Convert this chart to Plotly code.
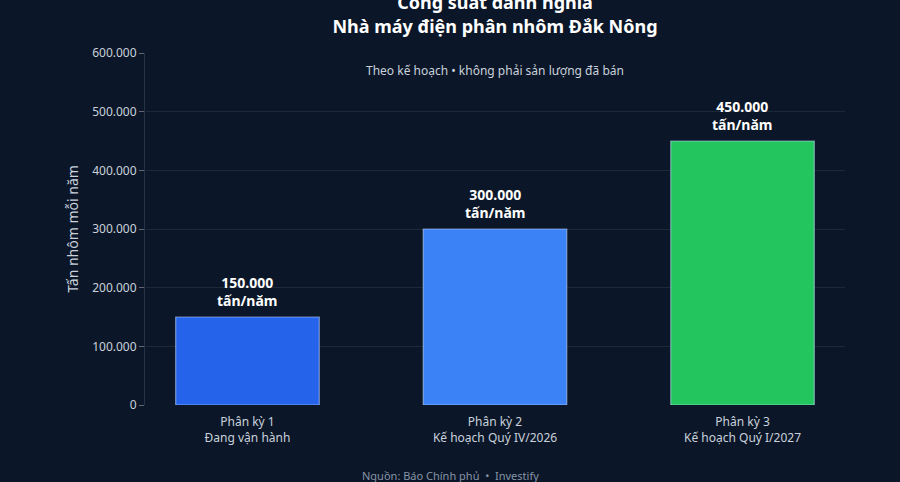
import plotly.graph_objects as go

categories = ["Phân kỳ 1<br>Đang vận hành", "Phân kỳ 2<br>Kế hoạch Quý IV/2026", "Phân kỳ 3<br>Kế hoạch Quý I/2027"]
values = [150000, 300000, 450000]
labels = ["150.000<br>tấn/năm", "300.000<br>tấn/năm", "450.000<br>tấn/năm"]
colors = ["#2563eb", "#3b82f6", "#22c55e"]
tick_vals = [0, 100000, 200000, 300000, 400000, 500000, 600000]

BG = "#0b1728"
FONT = "Noto Sans"

fig = go.Figure(go.Bar(
    x=categories, y=values,
    marker=dict(color=colors, line=dict(color="rgba(200,220,255,0.55)", width=1.2)),
))

annotations = [
    dict(x=c, y=v, xref="x", yref="y", text=f"<b>{t}</b>", showarrow=False,
         yanchor="bottom", xanchor="center", yshift=5,
         font=dict(family=FONT, size=14, color="#ffffff"))
    for c, v, t in zip(categories, values, labels)
]
annotations += [
    dict(text="Theo kế hoạch • không phải sản lượng đã bán", xref="paper", yref="paper",
         x=0.5, y=0.95, xanchor="center", yanchor="middle", showarrow=False,
         font=dict(size=12, color="#c9d1dc")),
    dict(text="Nguồn: Báo Chính phủ  •  Investify", xref="paper", yref="paper",
         x=(450 - 145) / 700, y=-0.199, xanchor="center", yanchor="middle", showarrow=False,
         font=dict(size=11, color="#8793a6")),
]

fig.update_layout(
    width=900, height=482,
    paper_bgcolor=BG, plot_bgcolor=BG,
    margin=dict(l=145, r=55, t=53, b=77),
    separators=",.",
    bargap=0.42,
    showlegend=False,
    font=dict(family=FONT, color="#c9d1dc", size=12),
    title=dict(text="<b>Công suất danh nghĩa<br>Nhà máy điện phân nhôm Đắk Nông</b>",
               x=0.55, xanchor="center", yref="container", y=0.981, yanchor="middle",
               font=dict(family=FONT, size=18, color="#ffffff")),
    xaxis=dict(showgrid=False, tickfont=dict(size=12, color="#c9d1dc"),
               ticks="outside", ticklen=6, tickcolor="rgba(0,0,0,0)", showline=False,
               range=[-0.414, 2.414]),
    yaxis=dict(range=[0, 600000], tickvals=tick_vals, tickformat=",d",
               gridcolor="rgba(255,255,255,0.08)", zeroline=False,
               showline=True, linecolor="rgba(255,255,255,0.12)",
               ticks="outside", ticklen=5, tickcolor="rgba(255,255,255,0.35)",
               tickfont=dict(size=12, color="#c9d1dc"),
               title=dict(text="Tấn nhôm mỗi năm", font=dict(size=14, color="#c9d1dc"), standoff=10)),
    annotations=annotations,
)

fig.write_html("out.html")
